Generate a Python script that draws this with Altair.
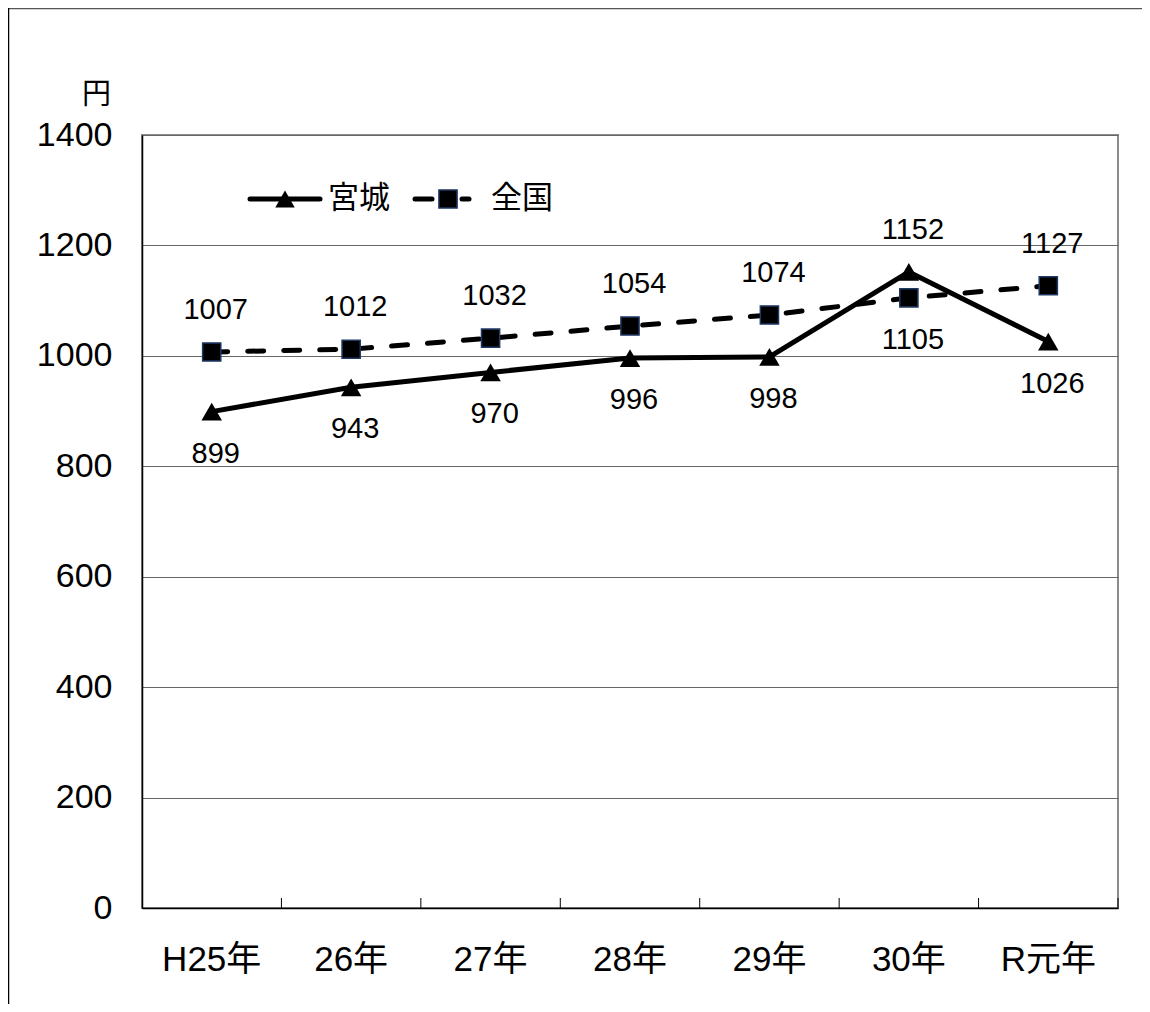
import altair as alt
import pandas as pd

cats = ["H25年", "26年", "27年", "28年", "29年", "30年", "R元年"]
miyagi = [899, 943, 970, 996, 998, 1152, 1026]
zenkoku = [1007, 1012, 1032, 1054, 1074, 1105, 1127]
series_names = ["宮城", "全国"]
y_ticks = [0, 200, 400, 600, 800, 1000, 1200, 1400]

FONT = "Liberation Sans, Arial, Noto Sans CJK JP"
W, H = 976, 773

rows = []
for i, c in enumerate(cats):
    hi = max(miyagi[i], zenkoku[i])
    for name, vals in zip(series_names, [miyagi, zenkoku]):
        v = vals[i]
        rows.append({"cat": c, "series": name, "value": v,
                     "pos": "above" if v == hi else "below"})
df = pd.DataFrame(rows)

xscale = alt.Scale(type="band", paddingInner=0, paddingOuter=0, domain=cats)
yscale = alt.Scale(domain=[0, 1400], nice=False)

x_enc = alt.X("cat:N", sort=cats, scale=xscale, bandPosition=0.5,
              axis=alt.Axis(title=None, ticks=False, grid=False, domainColor="#000000",
                            domainWidth=1.5, labelFontSize=35, labelFont=FONT,
                            labelColor="#000000", labelPadding=34, labelAngle=0,
                            labelAlign="center", labelBaseline="top"))
y_enc = alt.Y("value:Q", scale=yscale,
              axis=alt.Axis(values=y_ticks, format="d", title="円", titleAngle=0, titleFont=FONT,
                            titleFontSize=29, titleFontWeight="normal", titleColor="#000000",
                            titleX=-46, titleY=-41, titleAlign="center", titleBaseline="middle",
                            ticks=False, grid=True, gridColor="#666666", gridWidth=1,
                            domainColor="#000000", domainWidth=1.5, labelFontSize=34,
                            labelFont=FONT, labelColor="#000000", labelPadding=30))

base = alt.Chart(df)

m_line = base.transform_filter(alt.datum.series == "宮城").mark_line(
    color="#000000", strokeWidth=5, strokeJoin="round").encode(x=x_enc, y=y_enc)
z_line = base.transform_filter(alt.datum.series == "全国").mark_line(
    color="#000000", strokeWidth=5, strokeDash=[16, 20], strokeCap="round").encode(x=x_enc, y=y_enc)
m_pts = base.transform_filter(alt.datum.series == "宮城").mark_point(
    shape="triangle-up", size=420, filled=True, color="#000000", opacity=1).encode(x=x_enc, y=y_enc)
z_pts = base.transform_filter(alt.datum.series == "全国").mark_point(
    shape="square", size=330, filled=True, fill="#000000", stroke="#1F3864",
    strokeWidth=1.5, opacity=1).encode(x=x_enc, y=y_enc)

lab_above = base.transform_filter(alt.datum.pos == "above").mark_text(
    font=FONT, fontSize=29, color="#000000", baseline="middle", dy=-42, dx=4).encode(
    x=x_enc, y=y_enc, text="value:Q")
lab_below = base.transform_filter(alt.datum.pos == "below").mark_text(
    font=FONT, fontSize=29, color="#000000", baseline="middle", dy=42, dx=4).encode(
    x=x_enc, y=y_enc, text="value:Q")

ticks = base.transform_filter(alt.datum.series == "宮城").mark_rule(
    color="#000000", strokeWidth=1).encode(
    x=alt.X("cat:N", sort=cats, scale=xscale, bandPosition=1),
    y=alt.value(H - 10), y2=alt.value(H))

# legend (drawn manually)
one = alt.Chart(pd.DataFrame({"k": [0]}))
leg_y = 64
leg1_line = one.mark_rule(color="#000000", strokeWidth=5, strokeCap="round").encode(
    x=alt.value(108), x2=alt.value(178), y=alt.value(leg_y))
leg1_sym = one.mark_point(shape="triangle-up", size=380, filled=True, color="#000000",
                          opacity=1).encode(x=alt.value(143), y=alt.value(leg_y))
leg1_txt = one.mark_text(font=FONT, fontSize=31, align="left", baseline="middle",
                         color="#000000").encode(x=alt.value(186), y=alt.value(leg_y),
                                                 text=alt.value(series_names[0]))
leg2_a = one.mark_rule(color="#000000", strokeWidth=5, strokeCap="round").encode(
    x=alt.value(273), x2=alt.value(290), y=alt.value(leg_y))
leg2_b = one.mark_rule(color="#000000", strokeWidth=5, strokeCap="round").encode(
    x=alt.value(320), x2=alt.value(327), y=alt.value(leg_y))
leg2_sym = one.mark_point(shape="square", size=330, filled=True, fill="#000000",
                          stroke="#1F3864", strokeWidth=1.5, opacity=1).encode(
    x=alt.value(306), y=alt.value(leg_y))
leg2_txt = one.mark_text(font=FONT, fontSize=31, align="left", baseline="middle",
                         color="#000000").encode(x=alt.value(349), y=alt.value(leg_y),
                                                 text=alt.value(series_names[1]))

# outer frame
frame_top = one.mark_rule(color="#555555", strokeWidth=1.5).encode(
    x=alt.value(-134), x2=alt.value(1000), y=alt.value(-126.5))
frame_left = one.mark_rule(color="#000000", strokeWidth=1.5).encode(
    x=alt.value(-133.5), y=alt.value(-127), y2=alt.value(869))

chart = alt.layer(
    ticks, z_line, m_line, z_pts, m_pts, lab_above, lab_below,
    leg1_line, leg1_sym, leg1_txt, leg2_a, leg2_b, leg2_sym, leg2_txt,
    frame_top, frame_left
).properties(
    width=W, height=H,
    autosize=alt.AutoSizeParams(type="none"),
    padding={"left": 134, "top": 127, "right": 24, "bottom": 96},
    background="#ffffff",
).configure_view(stroke="#8c8c8c", strokeWidth=2)

chart.save("out.html", embed_options={"renderer": "svg", "actions": False})
